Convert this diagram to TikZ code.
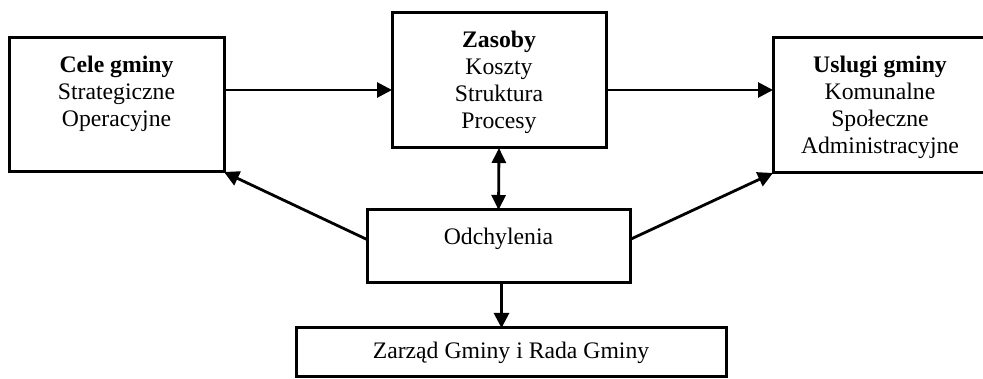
\documentclass[tikz,border=0pt]{standalone}
\usepackage{fontspec}
\setmainfont{Liberation Serif}
\usetikzlibrary{arrows.meta,calc}
\begin{document}
\begin{tikzpicture}[x=1pt,y=1pt,
  box/.style={draw, line width=3pt, inner sep=0pt, outer sep=0pt},
  txt/.style={font=\fontsize{23.7}{27}\selectfont, align=center, inner sep=0pt},
  arr/.style={line width=2.8pt, -{Triangle[length=15pt,width=15pt]}},
  dblarr/.style={line width=2.8pt, {Triangle[length=15pt,width=14pt]}-{Triangle[length=15pt,width=14pt]}}]
\useasboundingbox (0,0) rectangle (983,-379);
\clip (0,0) rectangle (983,-379);
% boxes
\node[box, minimum width=215pt, minimum height=134pt] (cele) at (116.5,-105) {};
\node[box, minimum width=214pt, minimum height=135pt] (zas) at (499,-80.5) {};
\node[box, minimum width=214pt, minimum height=135pt] (usl) at (880,-105.5) {};
\node[box, minimum width=263pt, minimum height=73pt] (odch) at (498.5,-246.5) {};
\node[box, minimum width=430pt, minimum height=49pt, txt] (zar) at (511,-352.5) {Zarząd Gminy i Rada Gminy};
% texts
\node[txt, anchor=north] (celet) at ([yshift=-18pt]cele.north) {\textbf{Cele gminy}\\Strategiczne\\Operacyjne};
\node[txt, anchor=north] (zast) at ([yshift=-18pt]zas.north) {\textbf{Zasoby}\\Koszty\\Struktura\\Procesy};
\node[txt, anchor=north] (uslt) at ([yshift=-18pt]usl.north) {\textbf{Uslugi gminy}\\Komunalne\\Społeczne\\Administracyjne};
\node[txt, anchor=north] (odcht) at ([yshift=-18pt]odch.north) {Odchylenia};
% connectors
\coordinate (c1) at ([yshift=-52pt]cele.north east);
\coordinate (c2) at (zas.east |- c1);
\draw[arr] (c1) -- (c1 -| zas.west);
\draw[arr] (c2) -- (c2 -| usl.west);
\draw[dblarr] (zas.south) -- (odch.north);
\coordinate (ol) at ([yshift=7pt]odch.west);
\coordinate (or) at ([yshift=7pt]odch.east);
\draw[arr] (ol) -- (cele.south east);
\draw[arr] (or) -- (usl.south west);
\coordinate (os) at ([xshift=3pt]odch.south);
\draw[arr] (os) -- (os |- zar.north);
\end{tikzpicture}
\end{document}
